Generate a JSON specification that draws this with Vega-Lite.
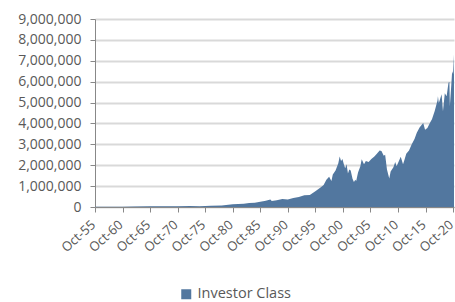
{
  "$schema": "https://vega.github.io/schema/vega-lite/v6.json",
  "width": 359,
  "height": 188,
  "autosize": "none",
  "padding": {"left": 95, "top": 19, "right": 1, "bottom": 95},
  "background": "white",
  "config": {"view": {"stroke": null}, "font": "Open Sans"},
  "data": {"values": [
    {"date": "1955-10-01", "value": 10000, "series": "Investor Class"},
    {"date": "1957-10-01", "value": 12000, "series": "Investor Class"},
    {"date": "1960-10-01", "value": 17000, "series": "Investor Class"},
    {"date": "1962-10-01", "value": 20000, "series": "Investor Class"},
    {"date": "1965-10-01", "value": 30000, "series": "Investor Class"},
    {"date": "1968-10-01", "value": 40000, "series": "Investor Class"},
    {"date": "1970-10-01", "value": 35000, "series": "Investor Class"},
    {"date": "1973-01-01", "value": 45000, "series": "Investor Class"},
    {"date": "1974-10-01", "value": 30000, "series": "Investor Class"},
    {"date": "1976-10-01", "value": 55000, "series": "Investor Class"},
    {"date": "1978-10-01", "value": 70000, "series": "Investor Class"},
    {"date": "1980-10-01", "value": 130000, "series": "Investor Class"},
    {"date": "1981-10-01", "value": 140000, "series": "Investor Class"},
    {"date": "1982-10-01", "value": 160000, "series": "Investor Class"},
    {"date": "1983-10-01", "value": 190000, "series": "Investor Class"},
    {"date": "1984-10-01", "value": 200000, "series": "Investor Class"},
    {"date": "1985-10-01", "value": 250000, "series": "Investor Class"},
    {"date": "1986-10-01", "value": 300000, "series": "Investor Class"},
    {"date": "1987-08-01", "value": 360000, "series": "Investor Class"},
    {"date": "1987-11-01", "value": 290000, "series": "Investor Class"},
    {"date": "1988-10-01", "value": 320000, "series": "Investor Class"},
    {"date": "1989-10-01", "value": 380000, "series": "Investor Class"},
    {"date": "1990-10-01", "value": 360000, "series": "Investor Class"},
    {"date": "1991-10-01", "value": 430000, "series": "Investor Class"},
    {"date": "1992-10-01", "value": 480000, "series": "Investor Class"},
    {"date": "1993-10-01", "value": 560000, "series": "Investor Class"},
    {"date": "1994-10-01", "value": 580000, "series": "Investor Class"},
    {"date": "1995-10-01", "value": 750000, "series": "Investor Class"},
    {"date": "1996-04-01", "value": 850000, "series": "Investor Class"},
    {"date": "1996-10-01", "value": 950000, "series": "Investor Class"},
    {"date": "1997-04-01", "value": 1050000, "series": "Investor Class"},
    {"date": "1997-10-01", "value": 1300000, "series": "Investor Class"},
    {"date": "1998-04-01", "value": 1450000, "series": "Investor Class"},
    {"date": "1998-09-01", "value": 1250000, "series": "Investor Class"},
    {"date": "1998-12-01", "value": 1550000, "series": "Investor Class"},
    {"date": "1999-06-01", "value": 1750000, "series": "Investor Class"},
    {"date": "1999-12-01", "value": 2100000, "series": "Investor Class"},
    {"date": "2000-03-01", "value": 2420000, "series": "Investor Class"},
    {"date": "2000-06-01", "value": 2200000, "series": "Investor Class"},
    {"date": "2000-09-01", "value": 2300000, "series": "Investor Class"},
    {"date": "2000-12-01", "value": 2050000, "series": "Investor Class"},
    {"date": "2001-03-01", "value": 1850000, "series": "Investor Class"},
    {"date": "2001-06-01", "value": 2050000, "series": "Investor Class"},
    {"date": "2001-09-01", "value": 1600000, "series": "Investor Class"},
    {"date": "2001-12-01", "value": 1800000, "series": "Investor Class"},
    {"date": "2002-03-01", "value": 1750000, "series": "Investor Class"},
    {"date": "2002-07-01", "value": 1350000, "series": "Investor Class"},
    {"date": "2002-10-01", "value": 1200000, "series": "Investor Class"},
    {"date": "2003-01-01", "value": 1300000, "series": "Investor Class"},
    {"date": "2003-03-01", "value": 1250000, "series": "Investor Class"},
    {"date": "2003-07-01", "value": 1650000, "series": "Investor Class"},
    {"date": "2003-12-01", "value": 1950000, "series": "Investor Class"},
    {"date": "2004-03-01", "value": 2280000, "series": "Investor Class"},
    {"date": "2004-08-01", "value": 2050000, "series": "Investor Class"},
    {"date": "2004-12-01", "value": 2200000, "series": "Investor Class"},
    {"date": "2005-06-01", "value": 2150000, "series": "Investor Class"},
    {"date": "2005-12-01", "value": 2300000, "series": "Investor Class"},
    {"date": "2006-06-01", "value": 2400000, "series": "Investor Class"},
    {"date": "2006-12-01", "value": 2550000, "series": "Investor Class"},
    {"date": "2007-06-01", "value": 2700000, "series": "Investor Class"},
    {"date": "2007-10-01", "value": 2680000, "series": "Investor Class"},
    {"date": "2008-03-01", "value": 2450000, "series": "Investor Class"},
    {"date": "2008-06-01", "value": 2500000, "series": "Investor Class"},
    {"date": "2008-10-01", "value": 1800000, "series": "Investor Class"},
    {"date": "2009-03-01", "value": 1370000, "series": "Investor Class"},
    {"date": "2009-06-01", "value": 1700000, "series": "Investor Class"},
    {"date": "2009-12-01", "value": 1900000, "series": "Investor Class"},
    {"date": "2010-04-01", "value": 2150000, "series": "Investor Class"},
    {"date": "2010-07-01", "value": 1950000, "series": "Investor Class"},
    {"date": "2010-12-01", "value": 2200000, "series": "Investor Class"},
    {"date": "2011-04-01", "value": 2400000, "series": "Investor Class"},
    {"date": "2011-09-01", "value": 2050000, "series": "Investor Class"},
    {"date": "2011-12-01", "value": 2250000, "series": "Investor Class"},
    {"date": "2012-04-01", "value": 2550000, "series": "Investor Class"},
    {"date": "2012-10-01", "value": 2700000, "series": "Investor Class"},
    {"date": "2013-04-01", "value": 3000000, "series": "Investor Class"},
    {"date": "2013-10-01", "value": 3250000, "series": "Investor Class"},
    {"date": "2014-03-01", "value": 3550000, "series": "Investor Class"},
    {"date": "2014-09-01", "value": 3800000, "series": "Investor Class"},
    {"date": "2015-05-01", "value": 4020000, "series": "Investor Class"},
    {"date": "2015-09-01", "value": 3700000, "series": "Investor Class"},
    {"date": "2016-02-01", "value": 3780000, "series": "Investor Class"},
    {"date": "2016-08-01", "value": 4050000, "series": "Investor Class"},
    {"date": "2016-12-01", "value": 4200000, "series": "Investor Class"},
    {"date": "2017-06-01", "value": 4600000, "series": "Investor Class"},
    {"date": "2017-12-01", "value": 5100000, "series": "Investor Class"},
    {"date": "2018-01-01", "value": 5300000, "series": "Investor Class"},
    {"date": "2018-03-01", "value": 4980000, "series": "Investor Class"},
    {"date": "2018-09-01", "value": 5400000, "series": "Investor Class"},
    {"date": "2018-12-01", "value": 4580000, "series": "Investor Class"},
    {"date": "2019-04-01", "value": 5450000, "series": "Investor Class"},
    {"date": "2019-08-01", "value": 5300000, "series": "Investor Class"},
    {"date": "2019-12-01", "value": 5950000, "series": "Investor Class"},
    {"date": "2020-02-01", "value": 6000000, "series": "Investor Class"},
    {"date": "2020-03-01", "value": 4820000, "series": "Investor Class"},
    {"date": "2020-06-01", "value": 5800000, "series": "Investor Class"},
    {"date": "2020-08-01", "value": 6500000, "series": "Investor Class"},
    {"date": "2020-10-01", "value": 6350000, "series": "Investor Class"},
    {"date": "2020-12-01", "value": 7300000, "series": "Investor Class"}
  ]},
  "mark": {"type": "area", "interpolate": "linear"},
  "encoding": {
    "x": {
      "field": "date", "type": "temporal",
      "scale": {"domain": ["1955-10-01", "2020-12-01"]},
      "axis": {
        "title": null,
        "values": ["1955-10-01", "1960-10-01", "1965-10-01", "1970-10-01", "1975-10-01", "1980-10-01", "1985-10-01", "1990-10-01", "1995-10-01", "2000-10-01", "2005-10-01", "2010-10-01", "2015-10-01", "2020-10-01"],
        "format": "%b-%y",
        "labelAngle": -42,
        "labelAlign": "right",
        "labelBaseline": "top",
        "labelFontSize": 13,
        "labelColor": "#595959",
        "labelPadding": 6,
        "labelOffset": -6,
        "domainColor": "#888888",
        "tickColor": "#888888",
        "tickSize": 5,
        "grid": false,
        "labelOverlap": false,
        "labelFlush": false
      }
    },
    "y": {
      "field": "value", "type": "quantitative",
      "scale": {"domain": [0, 9000000]},
      "axis": {
        "title": null,
        "values": [0, 1000000, 2000000, 3000000, 4000000, 5000000, 6000000, 7000000, 8000000, 9000000],
        "format": ",.0f",
        "labelFontSize": 14,
        "labelColor": "#595959",
        "labelPadding": 9,
        "domainColor": "#888888",
        "tickColor": "#888888",
        "tickSize": 5,
        "gridColor": "#d9d9d9",
        "gridWidth": 2
      }
    },
    "color": {
      "field": "series", "type": "nominal",
      "scale": {"range": ["#52779f"]},
      "legend": {
        "title": null,
        "orient": "none",
        "legendX": 84,
        "legendY": 268,
        "symbolType": "square",
        "symbolSize": 100,
        "labelFontSize": 14.5,
        "labelColor": "#595959",
        "labelOffset": 4
      }
    }
  }
}
